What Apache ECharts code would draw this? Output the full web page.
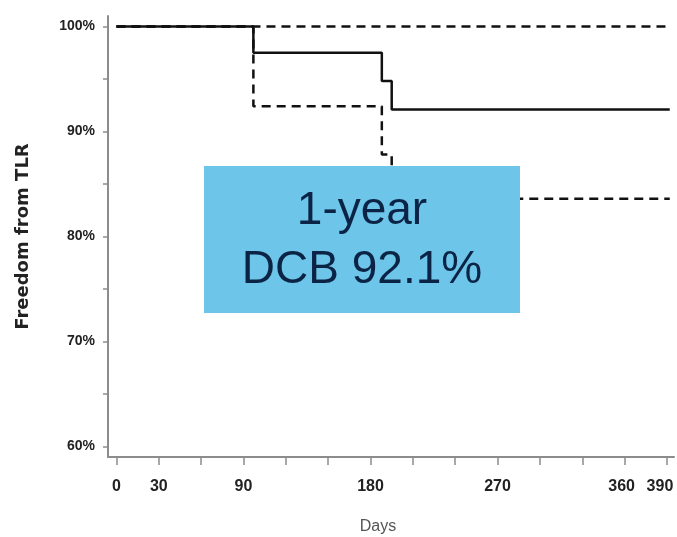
<!DOCTYPE html>
<html>
<head>
<meta charset="utf-8">
<script src="https://cdn.jsdelivr.net/npm/echarts@6/dist/echarts.min.js"></script>
<style>
html,body{margin:0;padding:0;background:#fff;}
#chart{width:677px;height:537px;}
</style>
</head>
<body>
<div id="chart"></div>
<script>
// Kaplan-Meier estimate (solid) and its confidence bounds (dashed)
const kmDays   = [0, 97, 188, 195, 392];
const kmValues = [100, 97.5, 94.8, 92.1, 92.1];
const upperDays   = [0, 392];
const upperValues = [100, 100];
const lowerDays   = [0, 97, 188, 195, 392];
const lowerValues = [100, 92.4, 87.8, 83.6, 83.6];

const xTickValues  = [0, 30, 60, 90, 120, 150, 180, 210, 240, 270, 300, 330, 360, 390];
const xLabelValues = [0, 30, 90, 180, 270, 360, 390];
const yTickValues  = [60, 65, 70, 75, 80, 85, 90, 95, 100];
const yLabelValues = [60, 70, 80, 90, 100];

const annotationLines = ['1-year', 'DCB 92.1%'];

function pairs(xs, ys){ return xs.map((x,i)=>[x, ys[i]]); }

const chart = echarts.init(document.getElementById('chart'));
const axisGray = '#8c8c8c';
const xLabFont = {fontFamily: 'Liberation Sans', fontWeight: 'bold', fontSize: 16, color: '#222'};
chart.setOption({
  animation: false,
  grid: {left: 108, right: 3, top: 16, bottom: 80, outerBoundsMode: 'none', containLabel: false},
  xAxis: {
    type: 'value', min: -6, max: 395,
    name: 'Days', nameLocation: 'middle', nameGap: 62,
    nameTextStyle: {fontFamily: 'Liberation Sans', fontSize: 16, color: '#555', padding: [0, 26, 0, 0]},
    axisLine: {show: true, onZero: false, lineStyle: {color: axisGray, width: 2}},
    axisTick: {show: true, customValues: xTickValues, length: 8, lineStyle: {color: axisGray, width: 1.5}},
    axisLabel: {
      customValues: xLabelValues, margin: 22,
      formatter: function (v) {
        if (v === 390) return '{e|' + v + '}';
        if (v === 360) return '{m|' + v + '}';
        return '{n|' + v + '}';
      },
      rich: {
        n: Object.assign({}, xLabFont),
        m: Object.assign({padding: [0, 6, 0, 0]}, xLabFont),
        e: Object.assign({padding: [0, 14, 0, 0]}, xLabFont)
      }
    },
    splitLine: {show: false}
  },
  yAxis: {
    type: 'value', min: 59, max: 101,
    name: 'Freedom from TLR', nameLocation: 'middle', nameGap: 76,
    nameTextStyle: {fontFamily: 'DejaVu Sans', fontWeight: 'bold', fontSize: 18, color: '#222'},
    axisLine: {show: true, onZero: false, lineStyle: {color: axisGray, width: 2}},
    axisTick: {show: true, customValues: yTickValues, length: 5, lineStyle: {color: axisGray, width: 1.5}},
    axisLabel: {customValues: yLabelValues, formatter: '{value}%', margin: 13, fontFamily: 'Liberation Sans', fontWeight: 'bold', fontSize: 14, color: '#222'},
    splitLine: {show: false}
  },
  series: [
    {type: 'line', step: 'end', data: pairs(upperDays, upperValues), showSymbol: false,
     lineStyle: {color: '#111', width: 2.5, type: [9, 6]}, z: 2},
    {type: 'line', step: 'end', data: pairs(lowerDays, lowerValues), showSymbol: false,
     lineStyle: {color: '#111', width: 2.5, type: [9, 6]}, z: 2},
    {type: 'line', step: 'end', data: pairs(kmDays, kmValues), showSymbol: false,
     lineStyle: {color: '#111', width: 2.5}, z: 3}
  ],
  graphic: [
    {type: 'rect', shape: {x: 204, y: 166, width: 316, height: 147}, style: {fill: '#6dc5e9'}, z: 100},
    {type: 'text', x: 362, y: 211, z: 101, style: {text: annotationLines[0], font: '46px "Liberation Sans"', fill: '#0b2445', textAlign: 'center', textVerticalAlign: 'middle'}},
    {type: 'text', x: 362, y: 270, z: 101, style: {text: annotationLines[1], font: '46px "Liberation Sans"', fill: '#0b2445', textAlign: 'center', textVerticalAlign: 'middle'}}
  ]
});
</script>
</body>
</html>
